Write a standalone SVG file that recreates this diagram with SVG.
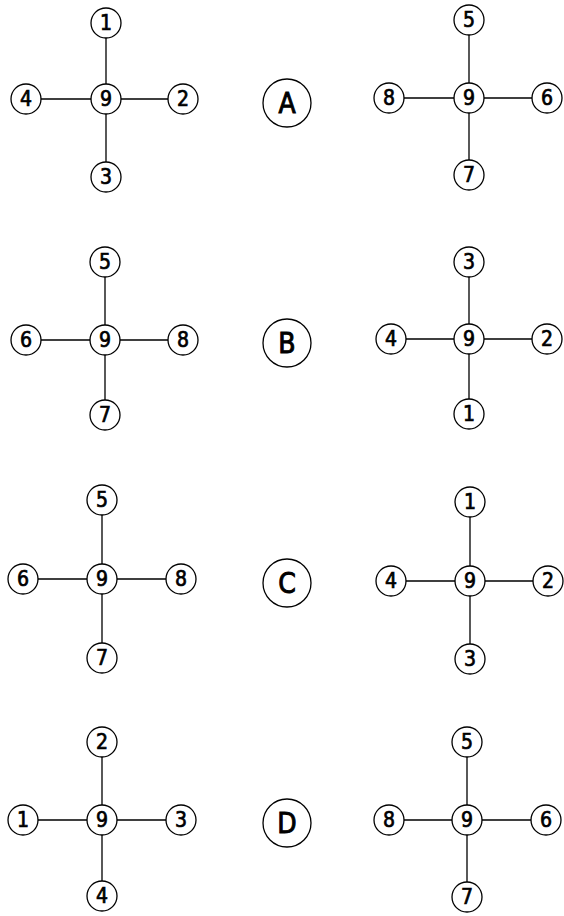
<svg xmlns="http://www.w3.org/2000/svg" width="564" height="916" viewBox="0 0 564 916">
<style>
.n{fill:#fff;stroke:#000;stroke-width:1.3}
.t{font-family:"DejaVu Sans Condensed","DejaVu Sans",sans-serif;font-size:21px;font-weight:normal;text-anchor:middle;dominant-baseline:central;fill:#000;stroke:#000;stroke-width:0.7}
.L{font-family:"DejaVu Sans Condensed","DejaVu Sans",sans-serif;font-size:28px;font-weight:normal;text-anchor:middle;dominant-baseline:central;fill:#000;stroke:#000;stroke-width:0.9}
.e{stroke:#000;stroke-width:1.3;fill:none}
</style>
<rect width="564" height="916" fill="#fff"/>
<g id="connectors" class="e">
<path d="M106 23V177M26 99H183"/>
<path d="M469 20V175M389 98H547"/>
<path d="M105 262V415M26 340H183"/>
<path d="M469 262V414M391 339H547"/>
<path d="M102 500V658M23 579H181"/>
<path d="M470 502V659M391 581H548"/>
<path d="M102 742V896M23 820H181"/>
<path d="M467 742V897M389 820H546"/>
</g>
<g id="A1"><circle class="n" cx="106" cy="23" r="15"/><text class="t" x="106" y="23">1</text></g>
<g id="A4"><circle class="n" cx="26" cy="99" r="15"/><text class="t" x="26" y="99">4</text></g>
<g id="A9"><circle class="n" cx="106" cy="99" r="15"/><text class="t" x="106" y="99">9</text></g>
<g id="A2"><circle class="n" cx="183" cy="99" r="15"/><text class="t" x="183" y="99">2</text></g>
<g id="A3"><circle class="n" cx="106" cy="177" r="15"/><text class="t" x="106" y="177">3</text></g>
<g id="labelA"><circle class="n" cx="287" cy="103" r="24"/><text class="L" x="287" y="103">A</text></g>
<g id="A5"><circle class="n" cx="469" cy="20" r="15"/><text class="t" x="469" y="20">5</text></g>
<g id="A8"><circle class="n" cx="389" cy="98" r="15"/><text class="t" x="389" y="98">8</text></g>
<g id="A9r"><circle class="n" cx="469" cy="98" r="15"/><text class="t" x="469" y="98">9</text></g>
<g id="A6"><circle class="n" cx="547" cy="98" r="15"/><text class="t" x="547" y="98">6</text></g>
<g id="A7"><circle class="n" cx="469" cy="175" r="15"/><text class="t" x="469" y="175">7</text></g>

<g id="B5"><circle class="n" cx="105" cy="262" r="15"/><text class="t" x="105" y="262">5</text></g>
<g id="B6"><circle class="n" cx="26" cy="340" r="15"/><text class="t" x="26" y="340">6</text></g>
<g id="B9"><circle class="n" cx="105" cy="340" r="15"/><text class="t" x="105" y="340">9</text></g>
<g id="B8"><circle class="n" cx="183" cy="340" r="15"/><text class="t" x="183" y="340">8</text></g>
<g id="B7"><circle class="n" cx="105" cy="415" r="15"/><text class="t" x="105" y="415">7</text></g>
<g id="labelB"><circle class="n" cx="287" cy="343" r="24"/><text class="L" x="287" y="343">B</text></g>
<g id="B3"><circle class="n" cx="469" cy="262" r="15"/><text class="t" x="469" y="262">3</text></g>
<g id="B4"><circle class="n" cx="391" cy="339" r="15"/><text class="t" x="391" y="339">4</text></g>
<g id="B9r"><circle class="n" cx="469" cy="339" r="15"/><text class="t" x="469" y="339">9</text></g>
<g id="B2"><circle class="n" cx="547" cy="339" r="15"/><text class="t" x="547" y="339">2</text></g>
<g id="B1"><circle class="n" cx="469" cy="414" r="15"/><text class="t" x="469" y="414">1</text></g>

<g id="C5"><circle class="n" cx="102" cy="500" r="15"/><text class="t" x="102" y="500">5</text></g>
<g id="C6"><circle class="n" cx="23" cy="579" r="15"/><text class="t" x="23" y="579">6</text></g>
<g id="C9"><circle class="n" cx="102" cy="579" r="15"/><text class="t" x="102" y="579">9</text></g>
<g id="C8"><circle class="n" cx="181" cy="579" r="15"/><text class="t" x="181" y="579">8</text></g>
<g id="C7"><circle class="n" cx="102" cy="658" r="15"/><text class="t" x="102" y="658">7</text></g>
<g id="labelC"><circle class="n" cx="287" cy="583" r="24"/><text class="L" x="287" y="583">C</text></g>
<g id="C1"><circle class="n" cx="470" cy="502" r="15"/><text class="t" x="470" y="502">1</text></g>
<g id="C4"><circle class="n" cx="391" cy="581" r="15"/><text class="t" x="391" y="581">4</text></g>
<g id="C9r"><circle class="n" cx="470" cy="581" r="15"/><text class="t" x="470" y="581">9</text></g>
<g id="C2"><circle class="n" cx="548" cy="581" r="15"/><text class="t" x="548" y="581">2</text></g>
<g id="C3"><circle class="n" cx="470" cy="659" r="15"/><text class="t" x="470" y="659">3</text></g>

<g id="D2"><circle class="n" cx="102" cy="742" r="15"/><text class="t" x="102" y="742">2</text></g>
<g id="D1"><circle class="n" cx="23" cy="820" r="15"/><text class="t" x="23" y="820">1</text></g>
<g id="D9"><circle class="n" cx="102" cy="820" r="15"/><text class="t" x="102" y="820">9</text></g>
<g id="D3"><circle class="n" cx="181" cy="820" r="15"/><text class="t" x="181" y="820">3</text></g>
<g id="D4"><circle class="n" cx="102" cy="896" r="15"/><text class="t" x="102" y="896">4</text></g>
<g id="labelD"><circle class="n" cx="287" cy="823" r="24"/><text class="L" x="287" y="823">D</text></g>
<g id="D5"><circle class="n" cx="467" cy="742" r="15"/><text class="t" x="467" y="742">5</text></g>
<g id="D8"><circle class="n" cx="389" cy="820" r="15"/><text class="t" x="389" y="820">8</text></g>
<g id="D9r"><circle class="n" cx="467" cy="820" r="15"/><text class="t" x="467" y="820">9</text></g>
<g id="D6"><circle class="n" cx="546" cy="820" r="15"/><text class="t" x="546" y="820">6</text></g>
<g id="D7"><circle class="n" cx="467" cy="897" r="15"/><text class="t" x="467" y="897">7</text></g>
</svg>
